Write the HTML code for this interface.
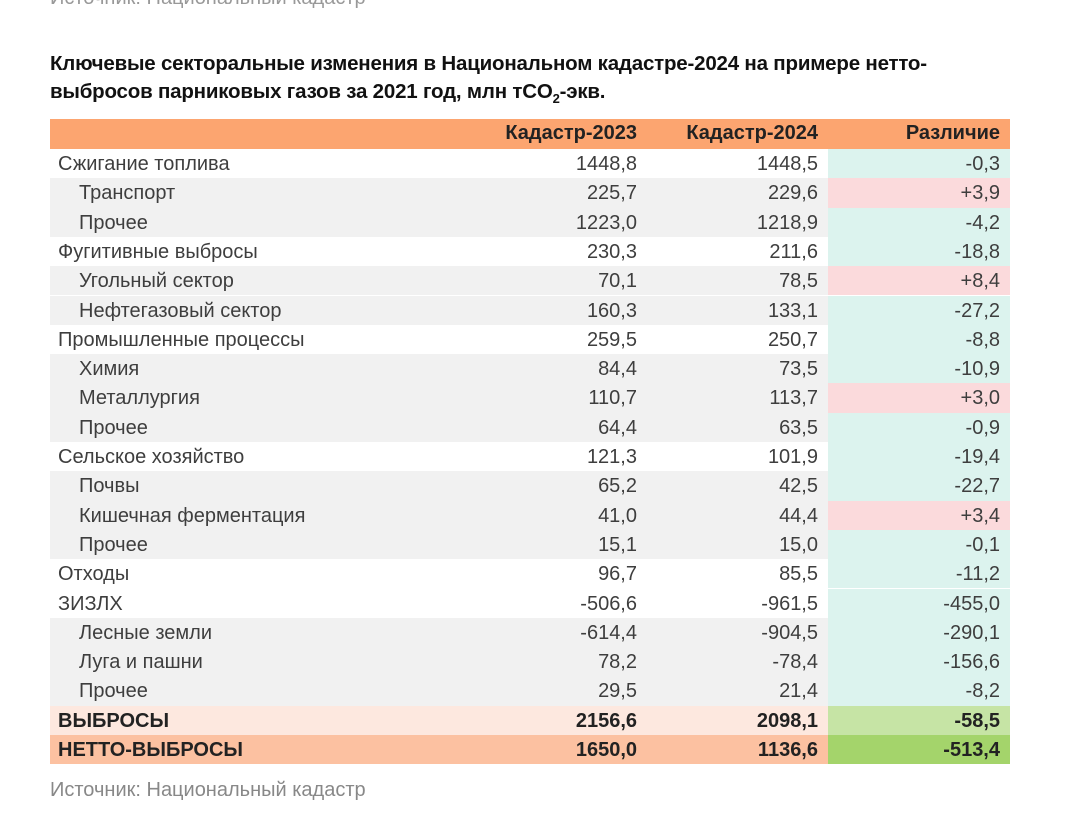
<!DOCTYPE html>
<html><head><meta charset="utf-8"><style>
body{margin:0;width:1080px;height:827px;background:#fff;position:relative;overflow:hidden;font-family:"Liberation Sans","Noto Sans CJK SC",sans-serif;color:#3e3e3e}
.t{position:absolute;white-space:nowrap}
.row{position:absolute;left:50px;width:960px;height:29.3px}
.c{position:absolute;top:1px;line-height:29.3px;font-size:20px}
</style></head><body>
<div class="t" style="left:50px;top:-13px;font-size:20px;color:#999">Источник: Национальный кадастр</div>
<div class="t" style="left:50px;top:50px;font-size:20.5px;font-weight:bold;color:#111;line-height:28px;letter-spacing:-0.2px">Ключевые секторальные изменения в Национальном кадастре-2024 на примере нетто-<br>выбросов парниковых газов за 2021 год, млн тCO<sub style="font-size:13px">2</sub>-экв.</div>
<div style="position:absolute;left:50px;top:119px;width:960px;height:30px;background:#fca570"></div>
<div class="t" style="right:443px;top:122px;font-size:20px;font-weight:bold;color:#222">Кадастр-2023</div>
<div class="t" style="right:262px;top:122px;font-size:20px;font-weight:bold;color:#222">Кадастр-2024</div>
<div class="t" style="right:80px;top:122px;font-size:20px;font-weight:bold;color:#222">Различие</div>
<div id="rows"></div>
<div class="t" style="left:50px;top:779px;font-size:20px;color:#888">Источник: Национальный кадастр</div>
<script>
const names=["Сжигание топлива","Транспорт","Прочее","Фугитивные выбросы","Угольный сектор","Нефтегазовый сектор","Промышленные процессы","Химия","Металлургия","Прочее","Сельское хозяйство","Почвы","Кишечная ферментация","Прочее","Отходы","ЗИЗЛХ","Лесные земли","Луга и пашни","Прочее","ВЫБРОСЫ","НЕТТО-ВЫБРОСЫ"];
const levels=[0,1,1,0,1,1,0,1,1,1,0,1,1,1,0,0,1,1,1,2,3];
const v2023=["1448,8","225,7","1223,0","230,3","70,1","160,3","259,5","84,4","110,7","64,4","121,3","65,2","41,0","15,1","96,7","-506,6","-614,4","78,2","29,5","2156,6","1650,0"];
const v2024=["1448,5","229,6","1218,9","211,6","78,5","133,1","250,7","73,5","113,7","63,5","101,9","42,5","44,4","15,0","85,5","-961,5","-904,5","-78,4","21,4","2098,1","1136,6"];
const diffs=["-0,3","+3,9","-4,2","-18,8","+8,4","-27,2","-8,8","-10,9","+3,0","-0,9","-19,4","-22,7","+3,4","-0,1","-11,2","-455,0","-290,1","-156,6","-8,2","-58,5","-513,4"];
const host=document.getElementById('rows');
names.forEach((n,i)=>{
  const lv=levels[i];
  const r=document.createElement('div');r.className='row';
  
  
  r.style.top=(149+i*29.3)+'px';
  r.style.background=lv===1?'#f1f1f1':lv===2?'#fde8df':lv===3?'#fcc1a1':'#fff';
  const bold=lv>=2?'font-weight:bold;color:#222;':'';
  const d=diffs[i];
  const dbg=lv===2?'#c6e4a5':lv===3?'#a4d46b':(d[0]==='+'?'#fbdadc':'#dcf3ee');
  r.innerHTML=`<div class="c" style="left:${lv===1?29:8}px;${bold}">${n}</div>`+
   `<div class="c" style="right:373px;${bold}">${v2023[i]}</div>`+
   `<div class="c" style="right:192px;${bold}">${v2024[i]}</div>`+
   `<div class="c" style="top:0;left:778px;width:182px;height:29.3px;background:${dbg}"></div>`+
   `<div class="c" style="right:10px;${bold}">${d}</div>`;
  host.appendChild(r);
});
</script>
</body></html>
